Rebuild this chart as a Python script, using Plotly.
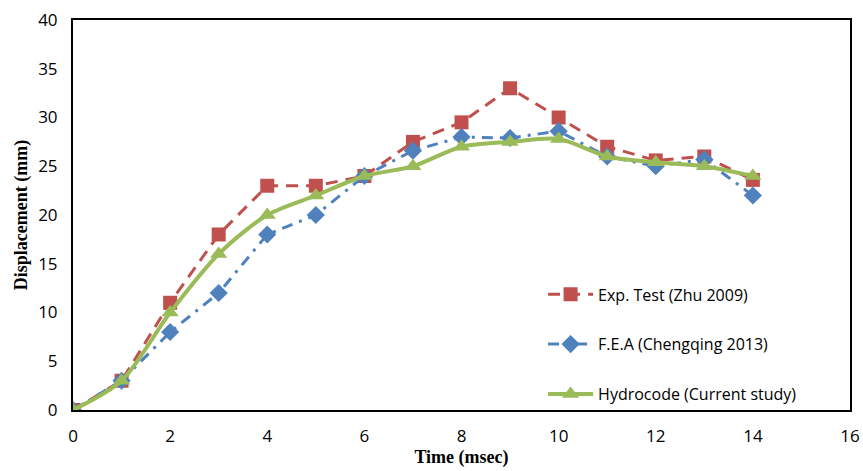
import plotly.graph_objects as go

time_ms = [0, 1, 2, 3, 4, 5, 6, 7, 8, 9, 10, 11, 12, 13, 14]
exp_test = [0, 3, 11, 18, 23, 23, 24, 27.5, 29.5, 33, 30, 27, 25.6, 26, 23.6]
fea = [0, 3, 8, 12, 18, 20, 24, 26.6, 28, 27.9, 28.6, 26, 25, 25.7, 22]
hydro = [0, 3, 10, 16, 20, 22, 24, 25, 27, 27.5, 27.8, 26, 25.4, 25, 24]

names = ["Exp. Test (Zhu 2009)", "F.E.A (Chengqing 2013)", "Hydrocode (Current study)"]
x_ticks = [0, 2, 4, 6, 8, 10, 12, 14, 16]
y_ticks = [0, 5, 10, 15, 20, 25, 30, 35, 40]

fig = go.Figure()
fig.add_trace(go.Scatter(
    x=time_ms, y=exp_test, name=names[0], mode="lines+markers",
    line=dict(color="#C0504D", width=3, dash="12px,8px"),
    marker=dict(symbol="square", size=14, color="#C0504D"),
    legendgroup="a"))
fig.add_trace(go.Scatter(
    x=time_ms, y=fea, name=names[1], mode="lines+markers",
    line=dict(color="#4F81BD", width=3, dash="11px,7px,3px,7px"),
    marker=dict(symbol="diamond", size=14, color="#4F81BD"),
    legendgroup="b"))
fig.add_trace(go.Scatter(
    x=time_ms, y=hydro, name=names[2], mode="lines+markers",
    line=dict(color="#9BBB59", width=4, shape="spline", smoothing=0.8),
    marker=dict(symbol="triangle-up", size=15, color="#9BBB59"),
    legendgroup="c"))

fig.update_layout(
    width=863, height=471,
    margin=dict(l=73, r=13, t=20, b=61, autoexpand=False),
    paper_bgcolor="white", plot_bgcolor="white",
    font=dict(family="Open Sans, Liberation Sans, sans-serif", size=17, color="black"),
    showlegend=True,
    legend=dict(x=0.605, y=0.34, xanchor="left", yanchor="top",
                bgcolor="rgba(0,0,0,0)", tracegroupgap=26, itemwidth=45,
                font=dict(size=16, family="Open Sans, sans-serif")),
    xaxis=dict(range=[0, 16], tickvals=x_ticks, showgrid=False, zeroline=False,
               showline=True, linecolor="black", linewidth=2, mirror=True,
               ticks="", ticklabelstandoff=10, automargin=False,
               title=dict(text="<b>Time (msec)</b>", standoff=2,
                          font=dict(family="Liberation Serif, serif", size=18))),
    yaxis=dict(range=[0, 40], tickvals=y_ticks, showgrid=False, zeroline=False,
               showline=True, linecolor="black", linewidth=2, mirror=True,
               ticks="", ticklabelstandoff=10, automargin=False,
               title=dict(text="<b>Displacement (mm)</b>", standoff=6,
                          font=dict(family="Liberation Serif, serif", size=18))),
)

fig.write_html("out.html", config={"displayModeBar": False},
               post_script="document.body.style.margin='0';")
